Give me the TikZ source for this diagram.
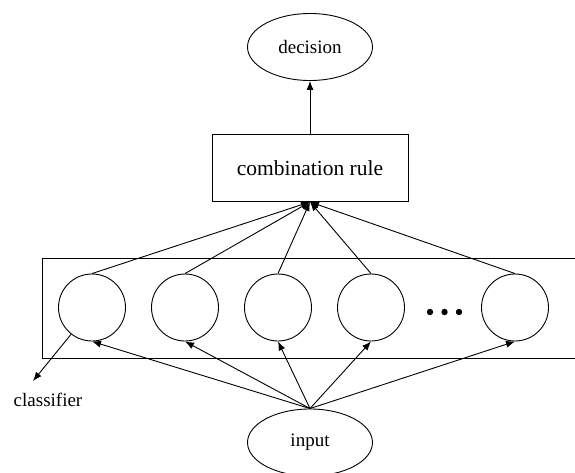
\documentclass[tikz,border=0pt]{standalone}
\usepackage{fontspec}
\setmainfont{Liberation Serif}
\usetikzlibrary{arrows.meta,shapes.geometric}

\begin{document}
\begin{tikzpicture}[x=1pt, y=-1pt, line width=0.9pt,
    oval/.style={draw, ellipse, minimum width=125pt, minimum height=67pt, inner sep=0pt, font=\fontsize{19}{23}\selectfont},
    member/.style={draw, circle, minimum size=67pt, inner sep=0pt},
    ruleblock/.style={draw, rectangle, minimum width=196pt, minimum height=67pt, font=\fontsize{21.5}{26}\selectfont},
    tip/.style={-{Latex[length=9pt,width=7pt]}}]
      \useasboundingbox (0,0) rectangle (575,473);
      %%% ensemble frame, runs past the right edge
      \draw (42,258) rectangle (590,358);

      \node[oval] (decision) at (310,47) {decision};
      \node[ruleblock] (comb) at (310,168) {combination rule};
      \node[oval] (input) at (310,442.5) {input};

      %%% the classifiers
      \node[member] (c1) at (92,307.5) {};
      \node[member] (c2) at (185,307.5) {};
      \node[member] (c3) at (278,307.5) {};
      \node[member] (c4) at (371,307.5) {};
      \node[member] (c5) at (515,307.5) {};
      \fill (430,312) circle (3.2) (444.5,312) circle (3.2) (459,312) circle (3.2); %%% dots

      \draw[tip] (comb) -- (decision);
      \foreach \c in {c1,c2,c3,c4,c5} {
        \draw[tip] (\c.north) -- (comb.south);
        \draw[tip] (input.north) -- (\c.south);
      }

      %%% label for one classifier
      \coordinate (cl) at (33,381);
      \draw[tip] (c1.232) -- (cl);
      \node[font=\fontsize{19}{23}\selectfont] (cltext) at (48,400) {classifier};
\end{tikzpicture}
\end{document}
